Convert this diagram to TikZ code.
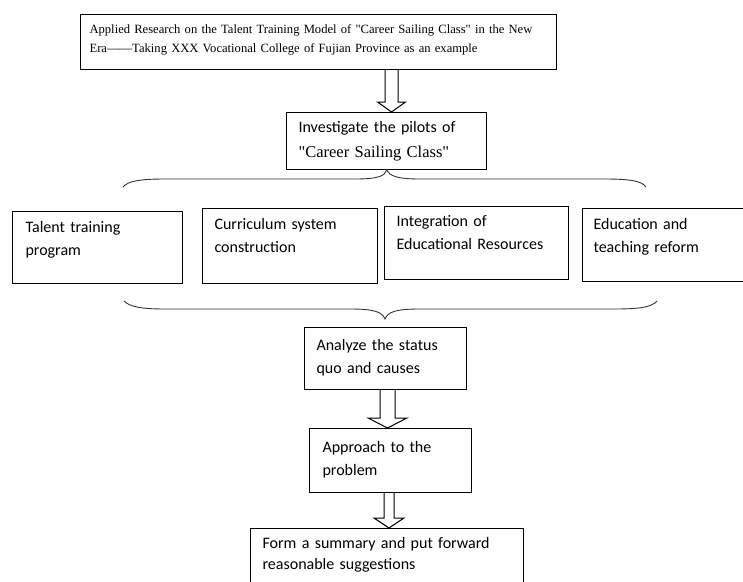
\documentclass[tikz,border=0pt]{standalone}
\usepackage{fontspec}
\setmainfont{Liberation Serif}[Ligatures=TeXOff]
\newfontfamily\carlito{Carlito}
\usetikzlibrary{calc}

% hollow block arrow: from node, to node, x of centre, half shaft, half head
\newcommand{\hollowarrow}[5]{%
\draw[line width=1pt,line join=miter] (#3-#4,0 |- #1.south)
  -- ($(#3-#4,0 |- #2.north)+(0,-10)$) -- ($(#3-#5,0 |- #2.north)+(0,-10)$)
  -- (#3,0 |- #2.north)
  -- ($(#3+#5,0 |- #2.north)+(0,-10)$) -- ($(#3+#4,0 |- #2.north)+(0,-10)$)
  -- (#3+#4,0 |- #1.south);}

\begin{document}
\begin{tikzpicture}[x=1pt,y=-1pt,
  box/.style={draw,line width=1.1pt,anchor=north west,inner xsep=12pt,inner ysep=0pt,align=left},
  sans/.style={font=\carlito\fontsize{16}{23}\selectfont},
  brace/.style={line width=0.9pt,draw=black!80}]
\clip (0,0) rectangle (743,581);

\node[box,font=\fontsize{12.6}{19}\selectfont,inner xsep=9pt,text width=458pt,text height=19pt,text depth=36pt] at (80,14) (title) {Applied Research on the Talent Training Model of "Career Sailing Class" in the New\\Era——Taking XXX Vocational College of Fujian Province as an example};
\node[box,font=\carlito\fontsize{16}{25}\selectfont,text width=176pt,text height=20pt,text depth=37pt] at (286,112) (inv) {Investigate the pilots of\\{\rmfamily\fontsize{16.5}{25}\selectfont "Career Sailing Class"}};

\node[box,sans,inner xsep=13pt,text width=144pt,text height=21pt,text depth=51pt] at (12,211) (plan) {Talent training\\program};
\node[box,sans,text width=151pt,text height=21pt,text depth=54pt] at (202,208) (curr) {Curriculum system\\construction};
\node[box,sans,text width=160pt,text height=20pt,text depth=53pt] at (384,206) (res) {Integration of\\Educational Resources};
\node[box,sans,inner xsep=11pt,text width=158pt,text height=21pt,text depth=52pt] at (582,208) (reform) {Education and\\teaching reform};

\node[box,sans,text width=138pt,text height=23pt,text depth=39pt] at (304,327) (anl) {Analyze the status\\quo and causes};
\node[box,sans,inner xsep=13pt,text width=136pt,text height=24pt,text depth=40pt] at (309,428) (apr) {Approach to the\\problem};
\node[box,font=\carlito\fontsize{16}{21}\selectfont,text width=249pt,text height=20pt,text depth=60pt] at (250,528) (sum) {Form a summary and put forward\\reasonable suggestions};

\hollowarrow{title}{inv}{391.5}{6.5}{14}
\hollowarrow{anl}{apr}{387.5}{7.5}{19.5}
\hollowarrow{apr}{sum}{389}{5}{15}

% braces
\draw[brace] (123,187) .. controls (128,181) and (140,179) .. (165,179) -- (355,179)
  .. controls (378,179) and (385,176) .. (inv.south)
  .. controls (390,176) and (397,179) .. (420,179) -- (605,179)
  .. controls (630,179) and (642,181) .. (646,187);
\draw[brace] (124,301) .. controls (130,307) and (142,309) .. (165,309) -- (350,309)
  .. controls (375,309) and (382,312) .. (385,319)
  .. controls (388,312) and (395,309) .. (420,309) -- (615,309)
  .. controls (640,309) and (652,307) .. (657,301);
\end{tikzpicture}
\end{document}
